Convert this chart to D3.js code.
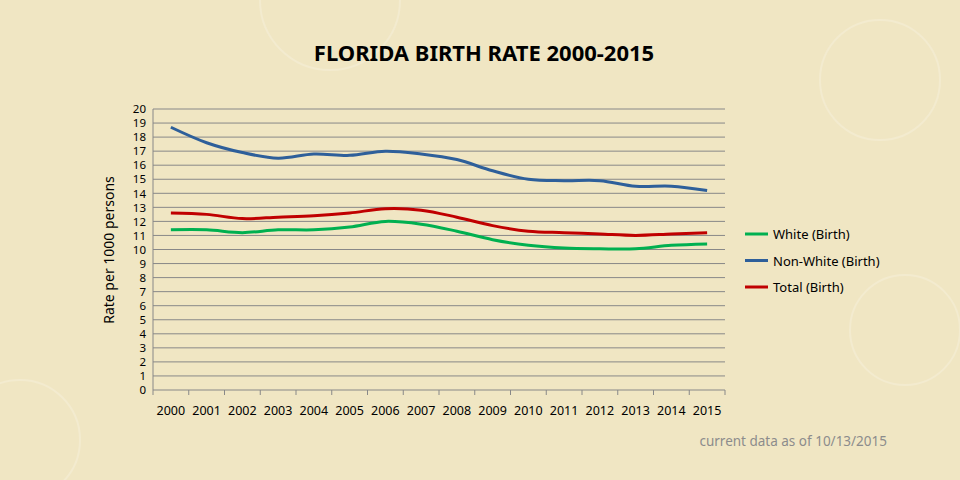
<!DOCTYPE html><html><head><meta charset="utf-8">
<script src="https://cdn.jsdelivr.net/npm/d3@7"></script>
<style>body{margin:0;background:#f0e6c3;}svg{display:block;font-family:"Noto Sans","Liberation Sans",sans-serif}</style></head><body>
<script>
const years=["2000","2001","2002","2003","2004","2005","2006","2007","2008","2009","2010","2011","2012","2013","2014","2015"];
const white=[11.4,11.4,11.2,11.4,11.4,11.6,12.0,11.8,11.3,10.7,10.3,10.1,10.05,10.05,10.3,10.4];
const nonWhite=[18.7,17.6,16.9,16.5,16.8,16.7,17.0,16.8,16.4,15.6,15.0,14.9,14.9,14.5,14.5,14.2];
const total=[12.6,12.5,12.2,12.3,12.4,12.6,12.9,12.8,12.3,11.7,11.3,11.2,11.1,11.0,11.1,11.2];
const yTicks=d3.range(0,21);
const series=[{name:"White (Birth)",v:white,c:"#00b050"},{name:"Non-White (Birth)",v:nonWhite,c:"#2e5f9a"},{name:"Total (Birth)",v:total,c:"#c00000"}];
const W=960,H=480;
const svg=d3.select("body").append("svg").attr("width",W).attr("height",H);
[[330,0,70],[880,80,60],[905,330,55],[20,440,60]].forEach(([cx,cy,r])=>svg.append("circle").attr("cx",cx).attr("cy",cy).attr("r",r).attr("fill","none").attr("stroke","#f3ebcf").attr("stroke-width",2));
const x=d3.scaleBand().domain(years).range([153,725]);
const y=d3.scaleLinear().domain([0,20]).range([390,109]);
const g=svg.append("g");
g.selectAll(".gl").data(yTicks).join("line").attr("x1",153).attr("x2",725).attr("y1",d=>y(d)).attr("y2",d=>y(d)).attr("stroke","#888").attr("stroke-width",1);
g.append("line").attr("x1",153).attr("x2",153).attr("y1",109).attr("y2",390).attr("stroke","#888");
g.selectAll(".xt").data(years).join("line").attr("x1",d=>x(d)).attr("x2",d=>x(d)).attr("y1",390).attr("y2",395).attr("stroke","#888");
g.append("line").attr("x1",725).attr("x2",725).attr("y1",390).attr("y2",395).attr("stroke","#888");
g.selectAll(".yl").data(yTicks).join("text").attr("x",146).attr("y",d=>y(d)+4.2).attr("text-anchor","end").attr("font-size",11.5).attr("fill","#000").text(d=>d);
g.selectAll(".xl").data(years).join("text").attr("x",d=>x(d)+x.bandwidth()/2).attr("y",415).attr("text-anchor","middle").attr("font-size",12.5).attr("fill","#000").text(d=>d);
const line=d3.line().x((d,i)=>x(years[i])+x.bandwidth()/2).y(d=>y(d)).curve(d3.curveCatmullRom.alpha(0.5));
series.forEach(s=>svg.append("path").attr("d",line(s.v)).attr("fill","none").attr("stroke",s.c).attr("stroke-width",3));
series.forEach((s,i)=>{const ly=234+i*26.5;svg.append("line").attr("x1",745).attr("x2",768).attr("y1",ly).attr("y2",ly).attr("stroke",s.c).attr("stroke-width",3);
svg.append("text").attr("x",773).attr("y",ly+5).attr("font-size",13).text(s.name);});
svg.append("text").attr("x",484).attr("y",61).attr("text-anchor","middle").attr("font-size",22).attr("font-weight","bold").text("FLORIDA BIRTH RATE 2000-2015");
svg.append("text").attr("transform","translate(114,250) rotate(-90)").attr("text-anchor","middle").attr("font-size",14).text("Rate per 1000 persons");
svg.append("text").attr("x",887).attr("y",446).attr("text-anchor","end").attr("font-size",13.5).attr("fill","#8c8c8c").text("current data as of 10/13/2015");
</script></body></html>
